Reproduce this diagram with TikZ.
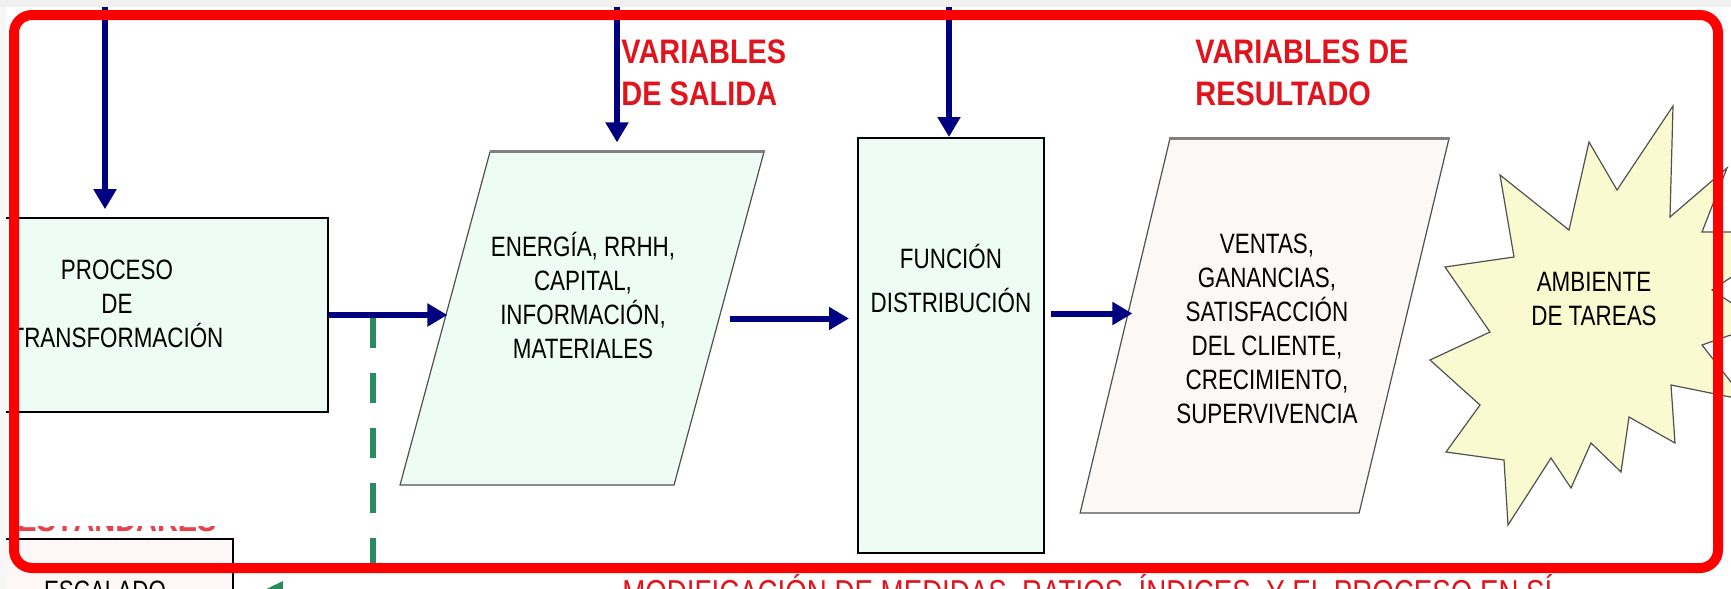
\documentclass[tikz,border=0pt]{standalone}
\usepackage{fontspec}
\setmainfont{Liberation Sans}[FakeStretch=0.8]
\newfontfamily\titlefont{Liberation Sans}[FakeStretch=0.85]
\usepackage{tikz}
\usetikzlibrary{arrows.meta}

\definecolor{navy}{RGB}{0,0,128}
\definecolor{mint}{RGB}{238,252,246}
\definecolor{blush}{RGB}{252,248,246}
\definecolor{escfill}{RGB}{253,247,247}
\definecolor{paleyellow}{RGB}{250,250,208}
\definecolor{fbgreen}{RGB}{40,140,95}
\definecolor{titlered}{RGB}{225,20,30}
\definecolor{framered}{RGB}{255,0,0}
\definecolor{edgegray}{RGB}{80,80,80}

\newcommand{\bodysize}{\fontsize{14pt}{17pt}\selectfont}
\newcommand{\titlesize}{\titlefont\bfseries\fontsize{17pt}{21pt}\selectfont}

\begin{document}
\begin{tikzpicture}[x=0.5pt, y=-0.5pt]
\tikzstyle{box}=[draw=black, line width=0.8pt, fill=mint, inner sep=0pt]
\tikzstyle{para}=[draw=edgegray, line width=0.6pt, inner sep=0pt, transform shape]
\tikzstyle{topedge}=[draw=gray, line width=1.6pt]
\tikzstyle{txt}=[anchor=base, align=center, inner sep=0pt, font=\bodysize]
\tikzstyle{title}=[anchor=base west, align=left, inner sep=0pt, font=\titlesize, text=titlered]
\tikzstyle{arr}=[color=navy, line width=3pt, -{Triangle[length=10pt, width=11pt]}]
\tikzstyle{fb}=[color=fbgreen, line width=3pt, dash pattern=on 15pt off 12.5pt, -{Triangle[length=12.5pt, width=11pt]}]
\tikzstyle{star}=[draw=edgegray, line width=0.6pt, fill=paleyellow]

\useasboundingbox (0,0) rectangle (1731,589);
\fill[white] (0,0) rectangle (1731,589);
\clip (0,0) rectangle (1731,589);

\begin{scope}
    \draw[star] (1500,175) -- (1569,230) -- (1589,142) -- (1617,190) -- (1673,106)
        -- (1670,217) -- (1727,168) -- (1702,232) -- (1745,232) -- (1745,268)
        -- (1712,290) -- (1745,312) -- (1745,330) -- (1702,345) -- (1745,400)
        -- (1671,385) -- (1675,443) -- (1629,417) -- (1621,472) -- (1591,443)
        -- (1571,488) -- (1551,458) -- (1508,525) -- (1504,460) -- (1446,452)
        -- (1480,405) -- (1430,360) -- (1490,332) -- (1445,267) -- (1514,257) -- cycle;

    \node[box, minimum width=219pt, minimum height=97pt] (proc) at (109,315) {};
    \node[box, line width=1pt, minimum width=93pt, minimum height=207.5pt] (fun) at (951,345.5) {};
    \node[box, fill=escfill, minimum width=166.5pt, minimum height=54pt] (esc) at (66.5,593) {};
\end{scope}

\begin{scope}[shift={(582,318.5)}, xslant=0.27]
    \node[para, fill=mint, minimum width=137pt, minimum height=166.5pt] (ener) at (0,0) {};
\end{scope}
\begin{scope}[shift={(1264.5,326)}, xslant=0.24]
    \node[para, fill=blush, minimum width=139.5pt, minimum height=187pt] (vent) at (0,0) {};
\end{scope}
\draw[topedge] (ener.north west) -- (ener.north east);
\draw[topedge] (vent.north west) -- (vent.north east);

\begin{scope}
    \node[txt] (proctxt) at (117,347) {PROCESO\\DE\\TRANSFORMACIÓN};
    \node[txt] (enertxt) at (583,358) {ENERGÍA, RRHH,\\CAPITAL,\\INFORMACIÓN,\\MATERIALES};
    \node[txt] (funtxt) at (951,312) {FUNCIÓN\\[5pt]DISTRIBUCIÓN};
    \node[txt] (ventxt) at (1267,423) {VENTAS,\\GANANCIAS,\\SATISFACCIÓN\\DEL CLIENTE,\\CRECIMIENTO,\\SUPERVIVENCIA};
    \node[txt] (ambtxt) at (1594,325) {AMBIENTE\\DE TAREAS};
    \node[txt] (esctxt) at (105,600) {ESCALADO};
    \node[txt, anchor=base west, text=titlered,
          font=\fontsize{17.3pt}{20pt}\selectfont] (modtxt) at (622,604)
          {MODIFICACIÓN DE MEDIDAS, RATIOS, ÍNDICES, Y EL PROCESO EN SÍ};

    \node[title] (outvar) at (621,105) {VARIABLES\\DE SALIDA};
    \node[title] (resvar) at (1195,105) {VARIABLES DE\\RESULTADO};
\end{scope}

\node[title, text=titlered!80] (stdvar) at (17,531) {ESTÁNDARES};
\fill[white] (0,495) rectangle (240,526);

\coordinate (in1) at (105,-5);
\coordinate (in2) at (617,-5);
\coordinate (in3) at (949,-5);
\coordinate (fv) at ([yshift=16pt]fun.east);
\coordinate (fb) at (373,318);

\path [arr, shorten >=4pt] (in1) edge (in1 |- proc.north);
\path [arr, shorten >=4.5pt] (in2) edge (in2 |- ener.north);
\path [arr] (in3) edge (in3 |- fun.north);
\path [arr, shorten >=-1.5pt] (proc) edge (proc -| ener.west);
\path [arr, shorten <=5pt, shorten >=4pt] (ener.east) edge (ener.east -| fun.west);
\path [arr, shorten <=3pt, shorten >=-4pt] (fv) edge (fv -| vent.west);
\draw [fb, shorten >=12pt] (fb) |- (esc.east);

\draw[framered, line width=5pt, rounded corners=9pt] (14,15) rectangle (1718,568);
\fill[gray!12] (0,0) rectangle (1731,7);
\fill[gray!6] (0,7) rectangle (6,589);
\end{tikzpicture}
\end{document}
